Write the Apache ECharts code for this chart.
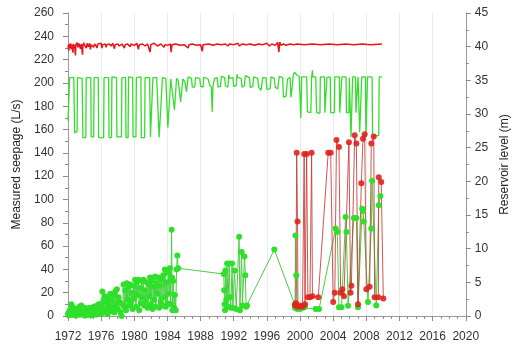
<!DOCTYPE html>
<html>
<head>
<meta charset="utf-8">
<script src="https://cdn.jsdelivr.net/npm/echarts@6/dist/echarts.min.js"></script>
<style>
  html, body { margin: 0; padding: 0; background: #fff; }
  #chart { width: 519px; height: 348px; }
</style>
</head>
<body>
<div id="chart"></div>
<script>
// axes
const yearTicks = { min: 1972, max: 2020, step: 4 };
const seepTicks = { min: 0, max: 260, step: 20 };
const levelTicks = { min: 0, max: 45, step: 5 };

// reservoir level, upper (m) - red line
const levelRed = [
  [1972.0,40.2],[1972.1,39.4],[1972.15,40.4],[1972.25,39.8],[1972.3,40.5],[1972.4,39.6],[1972.5,40.3],[1972.6,39.1],
  [1972.65,40.4],[1972.8,40.0],[1972.9,38.7],[1972.95,40.3],[1973.1,40.6],[1973.2,39.9],[1973.3,40.5],[1973.4,40.1],
  [1973.5,39.7],[1973.6,40.4],[1973.75,38.8],[1973.8,40.2],[1973.9,40.6],[1974.0,40.2],[1974.2,39.8],[1974.3,40.5],
  [1974.45,40.0],[1974.6,40.5],[1974.7,39.6],[1974.8,40.3],[1975.0,40.5],[1975.1,39.9],[1975.2,40.4],[1975.4,40.1],
  [1975.5,39.8],[1975.6,40.4],[1975.8,40.2],[1976.0,40.5],[1976.1,39.8],[1976.2,40.3],[1976.5,40.4],[1976.6,39.9],
  [1976.7,40.3],[1977.0,40.4],[1977.2,40.1],[1977.4,40.5],[1977.6,39.7],[1977.7,40.3],[1978.0,40.4],[1978.2,40.1],
  [1978.5,40.4],[1978.8,39.8],[1978.9,40.3],[1979.2,40.4],[1979.5,40.0],[1979.6,40.4],[1980.0,40.2],[1980.3,40.5],
  [1980.5,39.6],[1980.6,40.3],[1981.0,40.4],[1981.3,40.1],[1981.6,40.4],[1981.9,39.2],[1982.0,40.3],[1982.4,40.5],
  [1982.8,40.1],[1983.2,40.4],[1983.6,39.9],[1983.7,40.3],[1984.0,40.2],[1984.35,40.4],[1984.45,39.2],[1984.55,40.3],
  [1985.0,40.4],[1985.5,40.2],[1986.0,40.3],[1986.5,39.8],[1986.6,40.3],[1987.0,40.4],[1987.5,40.2],[1988.0,40.3],
  [1988.2,39.3],[1988.3,40.3],[1989.0,40.4],[1989.5,40.2],[1990.0,40.4],[1990.5,40.3],[1991.0,40.4],[1991.3,40.1],
  [1991.5,40.4],[1992.0,40.3],[1992.5,40.5],[1992.7,40.1],[1993.0,40.4],[1993.5,40.3],[1994.0,40.4],[1994.5,40.2],
  [1995.0,40.4],[1995.5,40.3],[1996.0,40.5],[1996.3,40.1],[1996.6,40.4],[1997.0,40.2],[1997.3,40.6],[1997.45,39.2],
  [1997.55,40.7],[1997.7,40.2],[1998.0,40.4],[1998.3,40.2],[1998.8,40.4],[1999.2,40.3],[1999.7,40.4],[2000.5,40.3],
  [2001.5,40.4],[2002.5,40.3],[2003.5,40.4],[2004.5,40.3],[2005.5,40.4],[2006.5,40.3],[2007.5,40.4],[2008.5,40.3],
  [2009.9,40.4]
];

// reservoir level, lower (m) - green line
const levelGreen = [
  [1972.0,29.0],[1972.2,35.4],[1972.7,35.4],[1972.8,27.2],[1973.1,27.4],[1973.15,35.4],[1973.7,35.3],[1973.8,26.5],
  [1974.15,26.5],[1974.2,35.4],[1974.75,35.4],[1974.8,26.6],[1975.1,26.6],[1975.15,35.4],[1975.65,35.4],[1975.7,26.5],
  [1976.3,26.5],[1976.35,35.4],[1976.9,35.4],[1976.95,26.5],[1977.25,26.5],[1977.3,35.5],[1977.85,35.4],[1977.9,26.6],
  [1978.45,26.6],[1978.5,35.4],[1978.95,35.4],[1979.0,26.5],[1979.25,26.5],[1979.3,35.5],[1979.8,35.4],[1979.85,26.6],
  [1980.2,26.6],[1980.25,35.4],[1980.8,35.5],[1980.85,26.5],[1981.25,26.5],[1981.3,35.4],[1981.85,35.4],[1981.95,26.6],
  [1982.25,35.4],[1982.7,35.4],[1983.0,26.5],[1983.4,35.4],[1983.8,35.3],[1984.05,28.0],[1984.4,35.2],[1984.55,35.0],
  [1984.85,30.6],[1985.1,35.3],[1985.3,35.0],[1985.6,31.8],[1985.85,35.2],[1986.1,34.8],[1986.3,33.3],[1986.5,35.5],
  [1986.9,35.3],[1987.0,34.0],[1987.3,34.0],[1987.4,35.4],[1987.9,35.3],[1988.0,34.1],[1988.3,34.0],[1988.4,35.5],
  [1988.9,35.2],[1989.1,34.3],[1989.3,34.0],[1989.4,30.3],[1989.5,34.2],[1989.7,35.3],[1990.0,35.4],[1990.1,34.0],
  [1990.4,34.1],[1990.5,35.6],[1990.9,35.4],[1991.0,34.2],[1991.3,34.0],[1991.4,35.8],[1991.5,35.3],[1991.9,35.4],
  [1992.0,34.1],[1992.3,34.2],[1992.4,35.9],[1992.5,35.4],[1992.9,35.3],[1993.0,34.0],[1993.3,34.2],[1993.4,35.7],
  [1993.9,35.4],[1994.0,33.9],[1994.3,34.1],[1994.4,35.5],[1994.9,35.3],[1995.0,34.0],[1995.3,33.5],[1995.5,35.4],
  [1995.9,35.4],[1996.0,33.6],[1996.4,33.8],[1996.5,35.5],[1996.9,35.3],[1997.0,34.0],[1997.3,33.7],[1997.5,35.6],
  [1997.9,35.4],[1998.0,32.5],[1998.3,32.6],[1998.5,35.2],[1998.8,35.4],[1998.9,32.5],[1999.0,33.4],[1999.2,35.9],
  [1999.35,36.2],[1999.6,35.8],[1999.9,35.6],[2000.1,29.4],[2000.2,35.5],[2000.8,35.5],[2000.9,30.3],[2001.3,30.2],
  [2001.4,35.5],[2001.5,36.5],[2001.55,35.5],[2001.9,35.5],[2002.0,30.2],[2002.4,30.1],[2002.45,35.5],[2002.95,35.5],
  [2003.0,30.2],[2003.2,30.1],[2003.25,35.4],[2003.65,35.5],[2003.7,30.2],[2004.15,30.2],[2004.2,35.5],[2004.75,35.5],
  [2004.8,30.2],[2005.0,30.1],[2005.05,35.5],[2005.55,35.5],[2005.6,30.2],[2005.9,30.2],[2005.95,35.4],[2006.1,35.5],
  [2006.15,26.6],[2006.3,26.6],[2006.35,35.5],[2006.7,35.5],[2006.75,30.2],[2006.95,30.2],[2007.0,35.5],[2007.15,35.5],
  [2007.2,27.3],[2007.4,27.3],[2007.45,35.5],[2007.9,35.5],[2007.95,26.6],[2008.1,26.6],[2008.15,35.5],[2008.7,35.5],
  [2008.75,26.8],[2009.5,26.8],[2009.55,35.5],[2009.9,35.5]
];

// measured seepage (L/s) - green points
const seepGreen = [
  [1972.0,2],[1972.1,0.5],[1972.15,4],[1972.25,1],[1972.3,6],[1972.4,10],[1972.45,2],[1972.55,5],[1972.6,1],[1972.7,7],
  [1972.8,3],[1972.9,0.5],[1973.0,4],[1973.1,2],[1973.2,6],[1973.3,1],[1973.4,8],[1973.5,3],[1973.6,9],[1973.7,1],
  [1973.8,5],[1973.9,2],[1974.0,7],[1974.1,0.5],[1974.2,4],[1974.3,2],[1974.4,6],[1974.5,1],[1974.6,7],[1974.7,3],
  [1974.8,0.5],[1974.9,5],[1975.0,2],[1975.1,8],[1975.2,3],[1975.3,6],[1975.4,1],[1975.5,9],[1975.6,4],[1975.7,10],
  [1975.8,3],[1975.9,7],[1976.0,2],[1976.1,11],[1976.15,21],[1976.2,5],[1976.3,14],[1976.4,3],[1976.5,17],[1976.6,6],
  [1976.7,12],[1976.8,2],[1976.9,15],[1977.0,8],[1977.1,19],[1977.2,4],[1977.3,13],[1977.4,7],[1977.5,18],[1977.6,3],
  [1977.7,21],[1977.8,10],[1977.9,23],[1978.0,6],[1978.1,16],[1978.2,12],[1978.35,3],[1978.45,0],[1978.6,10],[1978.7,27],
  [1978.8,8],[1978.9,22],[1979.0,5],[1979.1,28],[1979.2,14],[1979.3,25],[1979.4,9],[1979.5,27],[1979.6,12],[1979.7,20],
  [1979.8,6],[1979.9,26],[1980.0,15],[1980.1,31],[1980.2,8],[1980.3,29],[1980.4,18],[1980.5,31],[1980.6,5],[1980.7,24],
  [1980.8,11],[1980.9,30],[1981.0,16],[1981.1,31],[1981.2,9],[1981.3,22],[1981.4,13],[1981.5,29],[1981.6,7],[1981.7,27],
  [1981.8,17],[1981.9,33],[1982.0,10],[1982.1,30],[1982.2,6],[1982.3,25],[1982.4,14],[1982.5,34],[1982.6,8],[1982.7,28],
  [1982.8,19],[1982.9,33],[1983.0,7],[1983.1,26],[1983.2,12],[1983.3,31],[1983.4,9],[1983.5,35],[1983.6,16],[1983.7,40],
  [1983.8,8],[1983.9,29],[1984.0,11],[1984.1,37],[1984.2,19],[1984.3,41],[1984.4,10],[1984.5,74],[1984.55,33],[1984.6,5],
  [1984.7,30],[1984.8,7],[1984.9,18],[1985.0,5],[1985.1,40],[1985.2,52],[1985.3,41],
  [1990.8,36],[1990.85,22],[1990.9,10],[1990.95,5],[1991.0,39],[1991.1,14],[1991.2,45],[1991.3,8],[1991.45,45],[1991.55,16],
  [1991.65,7],[1991.8,45],[1991.9,7],[1992.1,39],[1992.3,6],[1992.65,68],[1992.75,5],[1992.95,55],[1993.05,9],[1993.3,51],
  [1993.4,35],[1993.5,8],[1993.6,9],[1996.9,57],[1999.35,10],[1999.4,7],[1999.45,69],[1999.55,35],[1999.65,6],[2000.0,6],
  [2000.4,7],[2000.6,8],[2001.9,6],[2002.3,6],[2004.3,75],[2004.5,72],[2004.7,7.5],[2005.0,7.5],[2005.5,85],[2005.6,72],
  [2005.8,8.7],[2006.5,84],[2006.8,84],[2007.0,7.5],[2007.5,92],[2007.6,90],[2007.7,81],[2008.2,12],[2008.6,75],[2008.7,116],
  [2009.2,9],[2009.5,95],[2009.7,103]
];

// measured seepage (L/s) - red points
const seepRed = [
  [1999.4,9],[1999.5,11],[1999.6,140],[1999.7,81],[1999.75,8],[2000.0,9],[2000.3,8],[2000.5,139],[2000.6,10],[2000.8,139],
  [2000.95,16],[2001.2,16],[2001.4,140],[2001.5,17],[2002.2,16],[2003.4,140],[2003.7,140],[2004.0,12],[2004.2,20],[2004.4,151],
  [2004.7,145],[2004.9,20],[2005.1,23],[2005.3,17],[2005.9,149],[2006.1,20],[2006.2,26],[2006.6,155],[2006.8,148],[2007.0,10],
  [2007.4,114],[2007.6,152],[2007.8,156],[2008.0,23],[2008.4,25],[2008.6,148],[2008.9,154],[2009.0,16],[2009.45,16],[2009.5,119],
  [2009.8,115],[2010.05,15]
];

const chart = echarts.init(document.getElementById('chart'), null, { renderer: 'canvas' });

const axisFont = { fontFamily: 'Liberation Sans', fontSize: 12, color: '#333' };
const tickGrey = { color: '#8a8a8a', width: 1 };

const option = {
  animation: false,
  backgroundColor: '#fff',
  grid: { left: 68, right: 45, top: 13, bottom: 32, containLabel: false },
  xAxis: [
    {
      // base line of the plot and the faint vertical grid
      type: 'value', position: 'bottom',
      min: yearTicks.min, max: yearTicks.max, interval: yearTicks.step,
      axisLine: { show: true, lineStyle: { color: '#9a9a9a', width: 1 } },
      axisTick: { show: false },
      axisLabel: { show: false },
      splitLine: { show: true, lineStyle: { color: '#ececec', width: 1 } }
    },
    {
      // detached tick row with the year labels
      type: 'value', position: 'bottom', offset: 6,
      min: yearTicks.min, max: yearTicks.max, interval: yearTicks.step,
      axisLine: { show: false },
      axisTick: { show: true, length: 5, lineStyle: tickGrey },
      minorTick: { show: true, splitNumber: 4, length: 3, lineStyle: tickGrey },
      axisLabel: Object.assign({ margin: 9, formatter: v => String(v) }, axisFont),
      splitLine: { show: false }
    }
  ],
  yAxis: [
    {
      type: 'value',
      position: 'left',
      min: seepTicks.min, max: seepTicks.max, interval: seepTicks.step,
      name: 'Measured seepage (L/s)',
      nameLocation: 'middle', nameRotate: 90, nameGap: 39,
      nameTextStyle: { fontFamily: 'Liberation Sans', fontSize: 12, color: '#222' },
      axisLine: { show: true, lineStyle: { color: '#9a9a9a', width: 1 } },
      axisTick: { show: true, length: 5, lineStyle: tickGrey },
      minorTick: { show: true, splitNumber: 2, length: 3, lineStyle: tickGrey },
      axisLabel: Object.assign({ margin: 14 }, axisFont),
      splitLine: { show: false }
    },
    {
      type: 'value',
      position: 'right',
      min: levelTicks.min, max: levelTicks.max, interval: levelTicks.step,
      name: 'Reservoir level (m)',
      nameLocation: 'middle', nameRotate: 90, nameGap: 31,
      nameTextStyle: { fontFamily: 'Liberation Sans', fontSize: 12, color: '#222' },
      axisLine: { show: true, lineStyle: { color: '#9a9a9a', width: 1 } },
      axisTick: { show: true, length: 5, lineStyle: tickGrey },
      minorTick: { show: true, splitNumber: 2, length: 3, lineStyle: tickGrey },
      axisLabel: Object.assign({ margin: 9 }, axisFont),
      splitLine: { show: false }
    }
  ],
  series: [
    {
      name: 'Level red', type: 'line', xAxisIndex: 0, yAxisIndex: 1, data: levelRed,
      showSymbol: false, lineStyle: { color: '#e8141a', width: 1.5 }
    },
    {
      name: 'Level green', type: 'line', xAxisIndex: 0, yAxisIndex: 1, data: levelGreen,
      showSymbol: false, lineStyle: { color: '#36dc2e', width: 1.3 }
    },
    {
      name: 'Seepage green', type: 'line', xAxisIndex: 0, yAxisIndex: 0, data: seepGreen,
      symbol: 'circle', symbolSize: 6,
      itemStyle: { color: '#2fe02a' },
      lineStyle: { color: '#4ccd44', width: 1 }
    },
    {
      name: 'Seepage red', type: 'line', xAxisIndex: 0, yAxisIndex: 0, data: seepRed,
      symbol: 'circle', symbolSize: 6,
      itemStyle: { color: '#e0221e', opacity: 0.9 },
      lineStyle: { color: '#c23a34', width: 1, opacity: 0.85 }
    }
  ]
};

chart.setOption(option);
window.addEventListener('resize', chart.resize);
</script>
</body>
</html>
